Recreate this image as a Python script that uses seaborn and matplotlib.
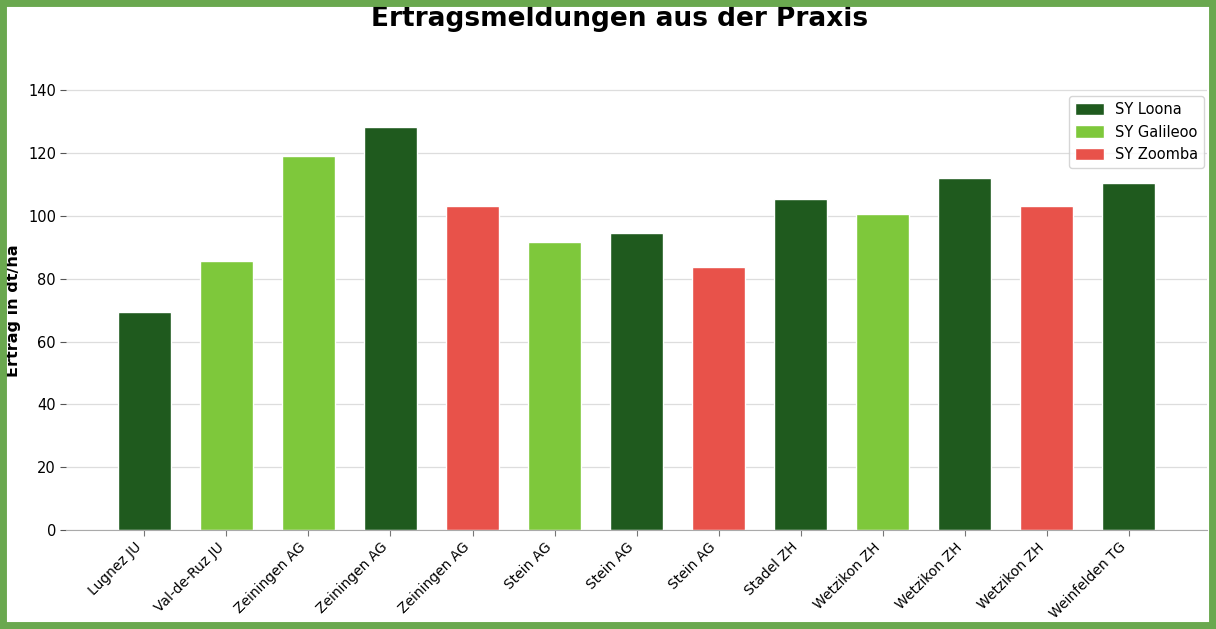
import pandas as pd
import numpy as np
import matplotlib.pyplot as plt
import seaborn as sns
from matplotlib.patches import Rectangle

# Daten
standorte = ["Lugnez JU", "Val-de-Ruz JU", "Zeiningen AG", "Zeiningen AG", "Zeiningen AG",
             "Stein AG", "Stein AG", "Stein AG", "Stadel ZH", "Wetzikon ZH",
             "Wetzikon ZH", "Wetzikon ZH", "Weinfelden TG"]
sorten = ["SY Loona", "SY Galileoo", "SY Galileoo", "SY Loona", "SY Zoomba",
          "SY Galileoo", "SY Loona", "SY Zoomba", "SY Loona", "SY Galileoo",
          "SY Loona", "SY Zoomba", "SY Loona"]
ertrag = [69.5, 85.5, 119.0, 128.3, 103.1, 91.6, 94.4, 83.6, 105.4, 100.5, 112.0, 103.1, 110.5]

farben = {"SY Loona": "#1f5a1e", "SY Galileoo": "#7ec83b", "SY Zoomba": "#e8524a"}

df = pd.DataFrame({"pos": [str(i) for i in range(len(standorte))],
                   "sorte": sorten, "ertrag": ertrag})

sns.set_style("whitegrid")
plt.rcParams.update({"text.color": "black", "axes.labelcolor": "black",
                     "xtick.color": "black", "ytick.color": "black"})
fig, ax = plt.subplots(figsize=(12.16, 6.29), dpi=100)

sns.barplot(data=df, x="pos", y="ertrag", hue="sorte", palette=farben,
            hue_order=list(farben.keys()), dodge=False, width=0.65,
            saturation=1, ax=ax)

ax.set_xticks(range(len(standorte)))
ax.set_xticklabels(standorte, rotation=45, ha="right", fontsize=10)
ax.set_xlim(-0.96, len(standorte) - 0.04)
ax.set_ylim(0, 150)
ax.set_yticks(range(0, 141, 20))
ax.tick_params(axis="y", labelsize=10.5, length=4, color="#555555", left=True, pad=3)
ax.tick_params(axis="x", length=4, color="#777777", bottom=True, pad=3)
ax.grid(axis="x", visible=False)
ax.grid(axis="y", color="#dddddd", linewidth=0.9)

for s in ["left", "top", "right"]:
    ax.spines[s].set_visible(False)
ax.spines["bottom"].set_color("#aaaaaa")

ax.set_xlabel("")
ax.set_ylabel("Ertrag in dt/ha", fontsize=11.5, fontweight="bold")
ax.yaxis.set_label_coords(-0.039, 0.465)
fig.text(0.5095, 0.99, "Ertragsmeldungen aus der Praxis", fontsize=19,
         fontweight="bold", ha="center", va="top")

ax.legend(loc="upper right", bbox_to_anchor=(1.003, 0.935), fontsize=10.5,
          frameon=True, handlelength=2.0, handleheight=0.9, labelspacing=0.5,
          borderpad=0.4, handletextpad=0.7)

plt.subplots_adjust(left=0.054, right=0.993, top=0.907, bottom=0.157)

# grüner Rahmen
fig.patches.append(Rectangle((0, 0), 1, 1, transform=fig.transFigure, fill=False,
                             edgecolor="#6aa84f", linewidth=10, zorder=10))

plt.savefig("out.png", dpi=100)
